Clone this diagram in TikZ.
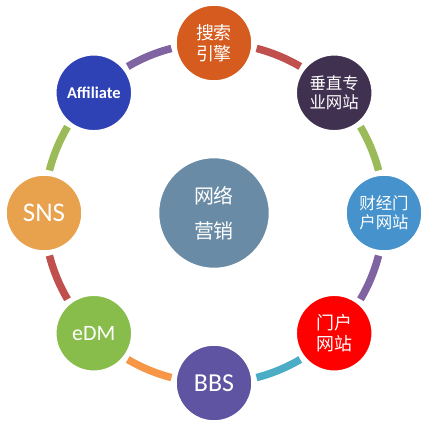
\documentclass[tikz,border=0pt]{standalone}
\usepackage{fontspec}
\setmainfont{Carlito}
\newfontfamily\cjk{Noto Sans CJK SC}
\usetikzlibrary{calc}
\definecolor{cSou}{HTML}{D55B1F}
\definecolor{cChui}{HTML}{403151}
\definecolor{cCai}{HTML}{4592CC}
\definecolor{cMen}{HTML}{FF0000}
\definecolor{cBBS}{HTML}{5F54A1}
\definecolor{cEDM}{HTML}{88BD4B}
\definecolor{cSNS}{HTML}{E8A24D}
\definecolor{cAff}{HTML}{2F42B5}
\definecolor{cCen}{HTML}{6A8BA5}
\definecolor{aRed}{HTML}{C0504D}
\definecolor{aGreen}{HTML}{9BBB59}
\definecolor{aPurple}{HTML}{8064A2}
\definecolor{aTeal}{HTML}{4BACC6}
\definecolor{aOrange}{HTML}{F79646}
\tikzset{
  ball/.style={circle, minimum size=77bp, inner sep=0pt, draw=white, line width=2.5bp, text=white, align=center},
  bigball/.style={ball, minimum size=112bp},
  ring/.style={line width=7.5bp},
}
\newcommand{\ringarc}[3]{%
  \draw[ring, #3] ($(c)+(#1-14.5:170bp)$) arc[start angle=#1-14.5, end angle=#2+14.5, radius=170bp];}
\begin{document}
\begin{tikzpicture}[x=1bp,y=1bp]
\useasboundingbox (-214,-212) rectangle (213,213);
\coordinate (c) at (0,0);
\ringarc{90}{45}{aRed}
\ringarc{45}{0}{aGreen}
\ringarc{0}{-45}{aPurple}
\ringarc{-45}{-90}{aTeal}
\ringarc{-90}{-135}{aOrange}
\ringarc{-135}{-180}{aRed}
\ringarc{180}{135}{aGreen}
\ringarc{135}{90}{aPurple}
\node[bigball, fill=cCen, font=\cjk\fontsize{20}{35}\selectfont] (center) at (c) {网络\\营销};
\node[ball, fill=cSou, font=\cjk\fontsize{18}{21}\selectfont] (sou) at (90:170) {搜索\\引擎};
\node[ball, fill=cChui, font=\cjk\fontsize{16.5}{18.5}\selectfont] (chui) at (45:170) {垂直专\\业网站};
\node[ball, fill=cCai, font=\cjk\fontsize{16.5}{19}\selectfont] (cai) at (0:170) {财经门\\户网站};
\node[ball, fill=cMen, font=\cjk\fontsize{18}{21}\selectfont] (men) at (-45:170) {门户\\网站};
\node[ball, fill=cBBS, font=\fontsize{26}{30}\selectfont] (bbs) at (-90:170) {BBS};
\node[ball, fill=cEDM, font=\fontsize{22}{26}\selectfont] (edm) at (-135:170) {eDM};
\node[ball, fill=cSNS, font=\fontsize{27}{30}\selectfont] (sns) at (180:170) {SNS};
\node[ball, fill=cAff, font=\fontsize{16.5}{20}\selectfont\bfseries] (aff) at (135:170) {Affiliate};
\end{tikzpicture}
\end{document}
